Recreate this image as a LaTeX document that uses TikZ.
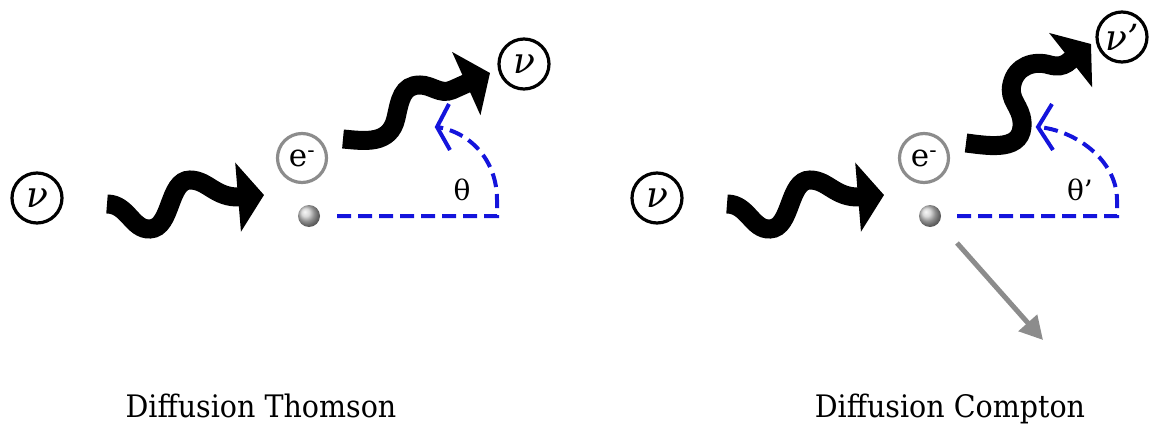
\documentclass[tikz,border=0pt]{standalone}
\usepackage{fontspec}
\setmainfont{DejaVu Serif}
\newfontfamily\titlefont[FakeStretch=0.92]{DejaVu Serif}
\usetikzlibrary{arrows.meta}
\definecolor{angleblue}{RGB}{20,20,220}
\definecolor{egray}{RGB}{140,140,140}
\begin{document}
\begin{tikzpicture}[x=1pt,y=-1pt]
\useasboundingbox (0,0) rectangle (1151,425);
\tikzset{
 photon/.style={draw=black, circle, line width=3.2pt, minimum size=50pt, inner sep=0pt, font=\fontsize{36}{36}\selectfont\itshape},
 elec/.style={draw=egray, circle, line width=3.2pt, minimum size=49pt, inner sep=0pt, font=\fontsize{31}{31}\selectfont},
 ballnode/.style={circle, minimum size=22pt, inner sep=0pt, shading=ball, ball color=gray!40},
 wave/.style={line width=19pt, -{Triangle[length=26pt,width=68pt]}},
 anglepath/.style={draw=angleblue, line width=4pt, dash pattern=on 14pt off 7pt},
 anglehead/.style={draw=angleblue, line width=4pt, line join=miter},
 recoil/.style={draw=egray, line width=5pt, -{Triangle[length=23pt,width=24pt]}},
 lbl/.style={font=\fontsize{28}{28}\selectfont},
 title/.style={font=\titlefont\fontsize{31}{31}\selectfont, anchor=base}
}
% ---------- Left panel : Thomson ----------
\node[photon] (nuinL) at (37,198) {ν};
\node[elec] (eL) at (302,158) {e\textsuperscript{-}};
\node[ballnode] (ballL) at (309,216) {};
\node[photon] (nuoutL) at (524,64) {ν};
\node[lbl] (thL) at (462,190) {θ};
\node[title] (titleL) at (261,417) {Diffusion Thomson};

\coordinate (w1sL) at (107,204);
\coordinate (w1eL) at (264,195);
\draw[wave] (w1sL) .. controls (128,204) and (132,230) .. (150,229)
  .. controls (172,228) and (168,180) .. (190,180)
  .. controls (208,180) and (215,198) .. (240,197) -- (w1eL);

\coordinate (w2sL) at (343,139);
\coordinate (w2eL) at (490,73);
\draw[wave] (w2sL) .. controls (365,141) and (390,145) .. (396,118)
  .. controls (400,100) and (402,85) .. (420,85)
  .. controls (432,85) and (440,95) .. (452,90) -- (w2eL);

\coordinate (aLs) at (337,216);
\coordinate (aLc) at (497,216);
\coordinate (aLt) at (437,127);
\draw[anglepath] (aLs) -- (aLc) -- (497,200) .. controls (497,160) and (470,132) .. (aLt);
\draw[anglehead] (449,104) -- (aLt) -- (450,150);

% ---------- Right panel : Compton ----------
\node[photon] (nuinR) at (657,198) {ν};
\node[elec] (eR) at (924,158) {e\textsuperscript{-}};
\node[ballnode] (ballR) at (930,216) {};
\node[photon] (nuoutR) at (1122,37) {ν’};
\node[lbl] (thR) at (1080,190) {θ’};
\node[title] (titleR) at (950,417) {Diffusion Compton};

\coordinate (w1sR) at (727,204);
\coordinate (w1eR) at (884,195);
\draw[wave] (w1sR) .. controls (748,204) and (752,230) .. (770,229)
  .. controls (792,228) and (788,180) .. (810,180)
  .. controls (828,180) and (835,198) .. (860,197) -- (w1eR);

\coordinate (w2sR) at (966,143);
\coordinate (w2eR) at (1091,44);
\draw[wave] (w2sR) .. controls (990,146) and (1024,152) .. (1022,122)
  .. controls (1021,106) and (1008,100) .. (1012,84)
  .. controls (1016,66) and (1034,60) .. (1050,65)
  .. controls (1058,67) and (1062,66) .. (1067,63) -- (w2eR);

\coordinate (aRs) at (957,216);
\coordinate (aRc) at (1117,216);
\coordinate (aRt) at (1038,127);
\draw[anglepath] (aRs) -- (aRc) -- (1117,200) .. controls (1117,160) and (1075,130) .. (aRt);
\draw[anglehead] (1052,104) -- (aRt) -- (1053,150);

\coordinate (rs) at (957,243);
\coordinate (re) at (1043,340);
\draw[recoil] (rs) -- (re);
\end{tikzpicture}
\end{document}
